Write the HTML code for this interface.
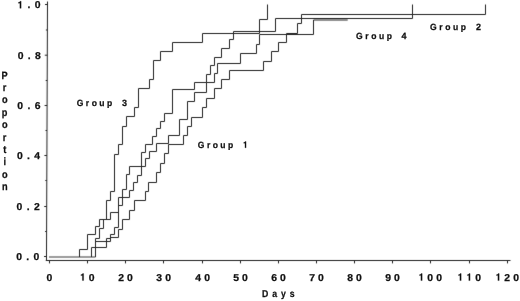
<!DOCTYPE html>
<html><head><meta charset="utf-8"><style>
html,body{margin:0;padding:0;background:#fff;overflow:hidden}
svg{display:block}
text{font-family:"Liberation Sans", sans-serif;font-weight:bold;text-rendering:geometricPrecision;fill:#111;stroke:#111;stroke-width:0.25px}
.one{fill:#111;stroke:#111;stroke-width:0.25px}
</style></head><body>
<svg width="520" height="301" viewBox="0 0 520 301">
<defs><filter id="b" color-interpolation-filters="sRGB" x="0" y="0" width="520" height="301" filterUnits="userSpaceOnUse"><feConvolveMatrix order="3" kernelMatrix="0.015 0.06 0.015 0.06 0.7 0.06 0.015 0.06 0.015" edgeMode="none" preserveAlpha="false"/></filter><filter id="g" x="0" y="0" width="520" height="301" filterUnits="userSpaceOnUse" color-interpolation-filters="sRGB"><feColorMatrix type="saturate" values="0"/></filter></defs>
<rect width="520" height="301" fill="#fff"/>
<g filter="url(#b)">
<path d="M 47.51 1.5 L 46.49 260 L 46 260.5 H 510.5" fill="none" stroke="#222" stroke-width="1.0"/>
<path d="M 44.00 256.5 H 46.50" stroke="#222" stroke-width="1.0"/>
<path d="M 45.10 231.5 H 46.60" stroke="#222" stroke-width="1.0"/>
<path d="M 44.20 206.5 H 46.70" stroke="#222" stroke-width="1.0"/>
<path d="M 45.30 180.5 H 46.80" stroke="#222" stroke-width="1.0"/>
<path d="M 44.40 155.5 H 46.90" stroke="#222" stroke-width="1.0"/>
<path d="M 45.50 130.5 H 47.00" stroke="#222" stroke-width="1.0"/>
<path d="M 44.60 105.5 H 47.10" stroke="#222" stroke-width="1.0"/>
<path d="M 45.70 80.5 H 47.20" stroke="#222" stroke-width="1.0"/>
<path d="M 44.80 55.2 H 47.30" stroke="#222" stroke-width="1.0"/>
<path d="M 45.90 30.0 H 47.40" stroke="#222" stroke-width="1.0"/>
<path d="M 45.00 4.5 H 47.50" stroke="#222" stroke-width="1.0"/>
<path d="M 49.5 260.5 V 263.4" stroke="#222" stroke-width="1.0"/>
<path d="M 87.5 260.5 V 263.4" stroke="#222" stroke-width="1.0"/>
<path d="M 125.5 260.5 V 263.4" stroke="#222" stroke-width="1.0"/>
<path d="M 163.5 260.5 V 263.4" stroke="#222" stroke-width="1.0"/>
<path d="M 202.5 260.5 V 263.4" stroke="#222" stroke-width="1.0"/>
<path d="M 240.5 260.5 V 263.4" stroke="#222" stroke-width="1.0"/>
<path d="M 278.5 260.5 V 263.4" stroke="#222" stroke-width="1.0"/>
<path d="M 316.5 260.5 V 263.4" stroke="#222" stroke-width="1.0"/>
<path d="M 354.5 260.5 V 263.4" stroke="#222" stroke-width="1.0"/>
<path d="M 392.5 260.5 V 263.4" stroke="#222" stroke-width="1.0"/>
<path d="M 430.5 260.5 V 263.4" stroke="#222" stroke-width="1.0"/>
<path d="M 469.5 260.5 V 263.4" stroke="#222" stroke-width="1.0"/>
<path d="M 507.5 260.5 V 263.4" stroke="#222" stroke-width="1.0"/>
<path d="M 49 256.9 H 95.5" stroke="#7a7a7a" stroke-width="1.5"/>
<path d="M 79.5 257.0 V 249.5 H 87.5 V 234.5 H 95.5 V 226.5 H 99.5 V 219.5 H 106.5 V 200.5 H 110.5 V 191.5 H 114.5 V 154.5 H 118.5 V 144.5 H 122.5 V 126.5 H 126.5 V 116.5 H 134.5 V 107.5 H 138.5 V 88.5 H 149.5 V 79.5 H 153.5 V 60.5 H 160.5 V 51.5 H 172.5 V 42.5 H 202.5 V 33.5 H 259.5 V 19.5 H 267.5 V 4.5" fill="none" stroke="#222" stroke-width="1.0"/>
<path d="M 95.5 257.0 V 238.5 H 99.5 V 228.5 H 103.5 V 219.5 H 110.5 V 212.5 H 118.5 V 197.5 H 129.5 V 190.5 H 133.5 V 182.5 H 137.5 V 175.5 H 141.5 V 152.5 H 145.5 V 144.5 H 152.5 V 136.5 H 156.5 V 128.5 H 160.5 V 121.5 H 164.5 V 113.5 H 172.5 V 89.5 H 194.5 V 82.5 H 206.5 V 74.5 H 210.5 V 65.5 H 214.5 V 57.5 H 221.5 V 48.5 H 229.5 V 39.5 H 233.5 V 31.5 H 275.5 V 18.5 H 412.5 V 4.5" fill="none" stroke="#222" stroke-width="1.0"/>
<path d="M 91.5 257.0 V 247.5 H 106.5 V 238.5 H 110.5 V 234.5 H 114.5 V 227.5 H 118.5 V 205.5 H 122.5 V 189.5 H 126.5 V 174.5 H 129.5 V 166.5 H 145.5 V 158.5 H 149.5 V 151.5 H 156.5 V 143.5 H 168.5 V 135.5 H 179.5 V 119.5 H 187.5 V 101.5 H 194.5 V 92.5 H 206.5 V 82.5 H 214.5 V 73.5 H 217.5 V 63.5 H 240.5 V 53.5 H 256.5 V 44.5 H 259.5 V 34.5 H 313.5 V 20.0 H 347.7" fill="none" stroke="#222" stroke-width="1.0"/>
<path d="M 95.5 257.0 V 241.5 H 110.5 V 237.5 H 118.5 V 229.5 H 122.5 V 219.5 H 129.5 V 210.5 H 134.5 V 200.5 H 145.5 V 191.5 H 148.5 V 182.5 H 156.5 V 172.5 H 160.5 V 163.5 H 164.5 V 153.5 H 168.5 V 144.5 H 183.5 V 135.5 H 187.5 V 126.5 H 191.5 V 117.5 H 202.5 V 107.5 H 206.5 V 98.5 H 214.5 V 88.5 H 221.5 V 79.5 H 229.5 V 70.5 H 263.5 V 61.5 H 271.5 V 51.5 H 278.5 V 42.5 H 286.5 V 33.5 H 297.5 V 23.5 H 301.5 V 14.5 H 485.5 V 4.5" fill="none" stroke="#222" stroke-width="1.0"/>
</g>
<g filter="url(#g)">
<text transform="translate(16.19,260.29) scale(1.04,1.0)" style="font-size:10.0px;letter-spacing:4.2px">0.0</text>
<text transform="translate(16.55,210.29) scale(1.04,1.0)" style="font-size:10.0px;letter-spacing:4.2px">0.2</text>
<text transform="translate(16.91,159.29) scale(1.04,1.0)" style="font-size:10.0px;letter-spacing:4.2px">0.4</text>
<text transform="translate(17.27,109.29) scale(1.04,1.0)" style="font-size:10.0px;letter-spacing:4.2px">0.6</text>
<text transform="translate(17.63,58.99) scale(1.04,1.0)" style="font-size:10.0px;letter-spacing:4.2px">0.8</text>
<text transform="translate(17.36,8.29) scale(1.04,1.0)" style="font-size:10.0px;letter-spacing:4.2px"> .0</text>
<path class="one" d="M 21.15 8.29 L 21.15 1.29 L 20.08 1.29 C 19.96 1.89 19.44 2.29 18.40 2.37 L 18.40 3.29 L 19.86 3.29 L 19.86 8.29 Z"/>
<text transform="translate(46.62,280.60) scale(1.04,1.0)" style="font-size:10.0px;letter-spacing:3.0px">0</text>
<text transform="translate(79.85,280.60) scale(1.04,1.0)" style="font-size:10.0px;letter-spacing:3.0px"> 0</text>
<path class="one" d="M 83.63 280.60 L 83.63 273.60 L 82.57 273.60 C 82.45 274.20 81.93 274.60 80.89 274.68 L 80.89 275.60 L 82.35 275.60 L 82.35 280.60 Z"/>
<text transform="translate(118.19,280.60) scale(1.04,1.0)" style="font-size:10.0px;letter-spacing:3.0px">20</text>
<text transform="translate(156.25,280.60) scale(1.04,1.0)" style="font-size:10.0px;letter-spacing:3.0px">30</text>
<text transform="translate(195.29,280.60) scale(1.04,1.0)" style="font-size:10.0px;letter-spacing:3.0px">40</text>
<text transform="translate(233.21,280.60) scale(1.04,1.0)" style="font-size:10.0px;letter-spacing:3.0px">50</text>
<text transform="translate(271.18,280.60) scale(1.04,1.0)" style="font-size:10.0px;letter-spacing:3.0px">60</text>
<text transform="translate(309.15,280.60) scale(1.04,1.0)" style="font-size:10.0px;letter-spacing:3.0px">70</text>
<text transform="translate(347.20,280.60) scale(1.04,1.0)" style="font-size:10.0px;letter-spacing:3.0px">80</text>
<text transform="translate(385.19,280.60) scale(1.04,1.0)" style="font-size:10.0px;letter-spacing:3.0px">90</text>
<text transform="translate(418.40,280.60) scale(1.04,1.0)" style="font-size:10.0px;letter-spacing:3.0px"> 00</text>
<path class="one" d="M 422.18 280.60 L 422.18 273.60 L 421.12 273.60 C 421.00 274.20 420.48 274.60 419.44 274.68 L 419.44 275.60 L 420.89 275.60 L 420.89 280.60 Z"/>
<text transform="translate(457.40,280.60) scale(1.04,1.0)" style="font-size:10.0px;letter-spacing:3.0px">  0</text>
<path class="one" d="M 461.18 280.60 L 461.18 273.60 L 460.12 273.60 C 460.00 274.20 459.48 274.60 458.44 274.68 L 458.44 275.60 L 459.89 275.60 L 459.89 280.60 Z"/>
<path class="one" d="M 470.09 280.60 L 470.09 273.60 L 469.03 273.60 C 468.90 274.20 468.38 274.60 467.34 274.68 L 467.34 275.60 L 468.80 275.60 L 468.80 280.60 Z"/>
<text transform="translate(495.40,280.60) scale(1.04,1.0)" style="font-size:10.0px;letter-spacing:3.0px"> 20</text>
<path class="one" d="M 499.18 280.60 L 499.18 273.60 L 498.12 273.60 C 498.00 274.20 497.48 274.60 496.44 274.68 L 496.44 275.60 L 497.89 275.60 L 497.89 280.60 Z"/>
<text transform="translate(262.02,297.30) scale(0.87,1.0)" style="font-size:10.0px;letter-spacing:4.498px">Days</text>
<text transform="translate(1.52,78.60) scale(0.87,1.0)" style="font-size:10.6px;letter-spacing:0px">P</text>
<text transform="translate(2.72,90.98) scale(0.87,1.0)" style="font-size:10.6px;letter-spacing:0px">r</text>
<text transform="translate(1.93,103.36) scale(0.87,1.0)" style="font-size:10.6px;letter-spacing:0px">o</text>
<text transform="translate(1.82,115.74) scale(0.87,1.0)" style="font-size:10.6px;letter-spacing:0px">p</text>
<text transform="translate(1.93,128.12) scale(0.87,1.0)" style="font-size:10.6px;letter-spacing:0px">o</text>
<text transform="translate(2.72,140.50) scale(0.87,1.0)" style="font-size:10.6px;letter-spacing:0px">r</text>
<text transform="translate(3.21,152.88) scale(0.87,1.0)" style="font-size:10.6px;letter-spacing:0px">t</text>
<text transform="translate(3.47,165.26) scale(0.87,1.0)" style="font-size:10.6px;letter-spacing:0px">i</text>
<text transform="translate(1.93,177.64) scale(0.87,1.0)" style="font-size:10.6px;letter-spacing:0px">o</text>
<text transform="translate(1.92,190.02) scale(0.87,1.0)" style="font-size:10.6px;letter-spacing:0px">n</text>
<text transform="translate(76.75,105.70) scale(0.95,1.0)" style="font-size:9.0px;letter-spacing:2.594px">Group</text>
<text transform="translate(122.09,105.70) scale(1.0,1.0)" style="font-size:9.0px;letter-spacing:0px">3</text>
<text transform="translate(197.85,147.80) scale(0.95,1.0)" style="font-size:9.0px;letter-spacing:2.541px">Group</text>
<text transform="translate(242.80,147.80) scale(1.0,1.0)" style="font-size:9.0px;letter-spacing:0px"> </text>
<path class="one" d="M 246.08 147.80 L 246.08 141.50 L 245.16 141.50 C 245.05 142.04 244.60 142.40 243.70 142.47 L 243.70 143.30 L 244.96 143.30 L 244.96 147.80 Z"/>
<text transform="translate(356.05,38.90) scale(0.95,1.0)" style="font-size:9.0px;letter-spacing:2.699px">Group</text>
<text transform="translate(401.46,38.90) scale(1.0,1.0)" style="font-size:9.0px;letter-spacing:0px">4</text>
<text transform="translate(430.05,30.30) scale(0.95,1.0)" style="font-size:9.0px;letter-spacing:2.725px">Group</text>
<text transform="translate(475.89,30.30) scale(1.0,1.0)" style="font-size:9.0px;letter-spacing:0px">2</text>
</g>
</svg>
</body></html>
